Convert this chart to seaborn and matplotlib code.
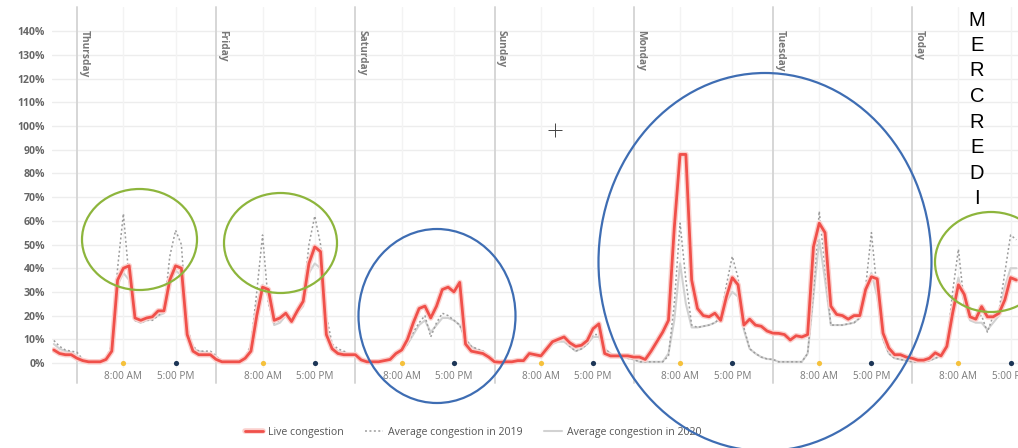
import numpy as np
import pandas as pd
import seaborn as sns
import matplotlib.pyplot as plt
import matplotlib.patches as mpatches
import matplotlib.patheffects as pe
from matplotlib.lines import Line2D

# ---------------- data ----------------
day_names = ["Thursday", "Friday", "Saturday", "Sunday", "Monday", "Tuesday", "Today"]
tick_labels = ["8:00 AM", "5:00 PM"]
tick_hours = [8, 17]

live_pre = [5.5, 4, 3.5, 3.5]
live_thu = [2, 1, 0.5, 0.5, 0.5, 1.5, 5, 35, 40, 41, 19, 18, 19, 19.5, 22, 22, 35, 41, 40, 12, 5, 3.5, 3.5, 3.5]
live_fri = [1.5, 0.5, 0.5, 0.5, 0.5, 2, 5, 20, 32, 31, 18, 19, 21, 17.5, 22, 26, 42, 49, 47, 12, 6, 4, 3.5, 3.5]
live_sat = [3.5, 1.3, 0.5, 0.5, 0.5, 1, 1.5, 4, 5.5, 10, 17, 23, 24, 19, 24, 31, 32, 30, 34, 8, 5, 4.5, 4, 2.5]
live_sun = [0.5, 0.3, 0.5, 0.5, 1, 1, 4, 3.5, 3, 6, 9, 10, 11, 8.5, 7, 7.5, 9.5, 14.5, 16.5, 4, 3, 3, 3, 3]
live_mon = [2.5, 2.5, 1.5, 5, 9, 13, 18, 57, 88, 88, 35, 23, 20, 19.5, 21, 18, 28, 36, 33, 16, 18.5, 16, 15.5, 13.5]
live_tue = [12.6, 12.5, 12, 9.7, 11.5, 11, 12, 49, 59, 55, 24, 20.5, 20, 18.5, 20, 20, 31, 36.4, 35.5, 12.6, 6.3, 3.5, 3.5, 2.5]
live_today = [2, 1.2, 1.2, 2, 4.3, 3, 7, 21, 33, 29, 19.5, 18.5, 23.8, 19.5, 19.5, 21, 26.6, 36, 35]

avg19_pre = [9.5, 7, 5.5, 5]
avg19_thu = [4.5, 1.5, 0.5, 0.5, 0.5, 1.5, 8, 40, 63, 35, 18, 17, 18, 18, 20, 22, 45, 56, 50, 15, 7, 5, 5, 5]
avg19_fri = [3, 0.5, 0.5, 0.5, 0.5, 2, 8, 30, 54, 25, 17, 18, 20, 19, 22, 27, 50, 62, 50, 20, 8, 6, 5, 4]
avg19_sat = [3, 1.5, 0.5, 0.5, 0.5, 1, 1.5, 3, 5, 8, 13, 17, 20, 11, 17, 21, 20, 18, 16, 10, 7, 6, 5, 3]
avg19_sun = [1, 0.5, 0.5, 0.5, 0.5, 1, 3, 3, 3, 5, 8, 10, 10, 7, 5, 6, 8, 12, 12, 6, 4, 3, 3, 2]
avg19_mon = [1.5, 0.5, 0.5, 0.5, 0.5, 0.5, 3, 25, 59, 35, 16, 15, 15.5, 16, 17, 19, 33, 45, 36, 15, 6, 4, 2.5, 1.7]
avg19_tue = [1.5, 0.5, 0.5, 0.5, 0.5, 0.5, 4, 30, 64, 40, 16, 16, 16, 16.5, 17, 19, 32, 55, 30, 10, 4, 2, 1.5, 1]
avg19_today = [0.5, 0.5, 0.5, 1, 2, 3, 7, 30, 48, 25, 19, 20, 20, 13, 20, 22, 38, 54, 52]

avg20_pre = [8, 6, 5, 4.5]
avg20_thu = [3, 1, 0.5, 0.5, 0.5, 1.5, 6, 33, 38, 35, 18, 17, 18, 18.5, 20, 21, 35, 39, 37, 12, 6, 5, 4.5, 4]
avg20_fri = [2, 0.5, 0.5, 0.5, 0.5, 2, 6, 25, 33, 28, 16, 17, 20, 19, 21, 24, 38, 42, 40, 15, 7, 5, 4.5, 4]
avg20_sat = [3, 1.5, 0.5, 0.5, 0.5, 1, 1.5, 3, 5, 8, 12, 16, 18, 13, 16, 19, 19, 18, 16, 10, 7, 5.5, 5, 3]
avg20_sun = [1, 0.5, 0.5, 0.5, 0.5, 1, 3, 3, 3, 5, 8, 9, 9, 7, 5, 6, 8, 11, 11, 6, 4, 3, 3, 2]
avg20_mon = [1.5, 0.5, 0.5, 0.5, 0.5, 0.5, 4, 18, 42, 25, 15, 15, 15.5, 16, 17, 19, 26, 30, 28, 14, 6, 4, 2.5, 1.7]
avg20_tue = [1.5, 0.5, 0.5, 0.5, 0.5, 0.5, 4, 28, 52, 35, 16, 16, 16, 16.5, 17, 19, 30, 38, 28, 10, 4, 2, 1.5, 1]
avg20_today = [0.5, 0.5, 0.5, 1, 2, 3, 6, 24, 36, 26, 18, 17, 17, 14, 17, 20, 32, 40, 40]

live = live_pre + live_thu + live_fri + live_sat + live_sun + live_mon + live_tue + live_today
avg19 = avg19_pre + avg19_thu + avg19_fri + avg19_sat + avg19_sun + avg19_mon + avg19_tue + avg19_today
avg20 = avg20_pre + avg20_thu + avg20_fri + avg20_sat + avg20_sun + avg20_mon + avg20_tue + avg20_today
hours = np.arange(-len(live_pre), -len(live_pre) + len(live))

df = pd.DataFrame({"hour": hours, "live": live, "avg19": avg19, "avg20": avg20})

# ---------------- figure ----------------
sns.set_theme(style="white")
plt.rcParams['font.family'] = ['Open Sans', 'DejaVu Sans']

W, H = 1018, 448
fig = plt.figure(figsize=(W / 100, H / 100), dpi=100)
ax_top, ax_bot, ax_left = 7, 368, 52
ax = fig.add_axes([ax_left / W, 1 - ax_bot / H, (W - ax_left) / W, (ax_bot - ax_top) / H])

px_per_hour = 139.17 / 24
x0_px = 77 - ax_left
ax.set_xlim(-x0_px / px_per_hour, (W - ax_left - x0_px) / px_per_hour)
px_per_pct = 2.37
ax.set_ylim(-(ax_bot - 363) / px_per_pct, (363 - ax_top) / px_per_pct)

for s in ax.spines.values():
    s.set_visible(False)

# grid
for v in range(0, 141, 10):
    ax.axhline(v, color="#ededed", lw=1, zorder=0)
day_starts = [24 * i for i in range(len(day_names))]
for d in day_starts:
    for th in tick_hours:
        ax.axvline(d + th, color="#f3f3f3", lw=1, zorder=0)
    ax.axvline(d, ymin=-15 / (ax_bot - ax_top), ymax=1, color="#d6d6d6", lw=1.4,
               clip_on=False, zorder=1)

# lines
sns.lineplot(data=df, x="hour", y="avg20", ax=ax, color="#d2d2d2", lw=1.5,
             label="Average congestion in 2020", zorder=2)
sns.lineplot(data=df, x="hour", y="avg19", ax=ax, color="#9c9c9c", lw=1.1,
             linestyle=(0, (1.3, 1.6)), label="Average congestion in 2019", zorder=3)
sns.lineplot(data=df, x="hour", y="live", ax=ax, color="#f0504a", lw=2,
             label="Live congestion", zorder=4,
             path_effects=[pe.Stroke(linewidth=4, foreground="#fbd0cd"), pe.Normal()])

# 8AM / 5PM dots
am = [d + tick_hours[0] for d in day_starts]
pm = [d + tick_hours[1] for d in day_starts]
ax.scatter(am, [0] * len(am), s=14, color="#f5c13c", zorder=6, clip_on=False, lw=0)
ax.scatter(pm, [0] * len(pm), s=14, color="#1c3556", zorder=6, clip_on=False, lw=0)

# day labels
for d, name in zip(day_starts, day_names):
    ax.text(d + 0.25, 140.5, name, rotation=-90, ha="left", va="top",
            fontsize=7.3, fontweight="bold", color="#777777", zorder=5)

# ticks
xt = sorted(am + pm)
ax.set_xticks(xt)
ax.set_xticklabels([tick_labels[0] if (t % 24) == tick_hours[0] else tick_labels[1] for t in xt])
ax.set_yticks(range(0, 141, 10))
ax.set_yticklabels([f"{v}%" for v in range(0, 141, 10)])
ax.tick_params(axis="x", length=0, pad=2.5, labelsize=7.2, labelcolor="#7a7a7a")
ax.tick_params(axis="y", length=0, pad=5, labelsize=7.6, labelcolor="#666666")
for lab in ax.get_yticklabels():
    lab.set_fontweight("bold")
ax.set_xlabel("")
ax.set_ylabel("")

# legend
handles, labels = ax.get_legend_handles_labels()
ax.get_legend().remove()
order = [labels.index("Live congestion"), labels.index("Average congestion in 2019"),
         labels.index("Average congestion in 2020")]
leg = fig.legend([handles[i] for i in order], [labels[i] for i in order], loc="center",
                 bbox_to_anchor=(473 / W, 1 - 432 / H), ncol=3, frameon=False,
                 fontsize=7.6, handlelength=1.7, columnspacing=2.0, handletextpad=0.5)
for t in leg.get_texts():
    t.set_color("#555555")

# annotation overlays (ellipses)
def ell(cx, cy, w, h, col):
    fig.add_artist(mpatches.Ellipse((cx / W, 1 - cy / H), w / W, h / H,
                                    transform=fig.transFigure, fill=False,
                                    ec=col, lw=1.6, zorder=10))

green = "#8db53c"
blue = "#3e6db3"
ell(139.5, 239.5, 115, 101, green)
ell(280.5, 243, 113, 100, green)
ell(991, 262, 112, 100, green)
ell(437, 316, 157, 174, blue)
ell(765, 262, 333, 378, blue)

# MERCREDI vertical text
word = "MERCREDI"
for i, ch in enumerate(word):
    fig.text(977 / W, 1 - (20 + 25.5 * i) / H, ch, ha="center", va="center",
             fontsize=14.5, family="Liberation Sans", color="black")

# cursor cross
fig.add_artist(Line2D([555 / W], [1 - 130 / H], marker="+", markersize=10,
                      markeredgewidth=0.7, color="#444444", transform=fig.transFigure))

fig.savefig("out.png", dpi=100)
